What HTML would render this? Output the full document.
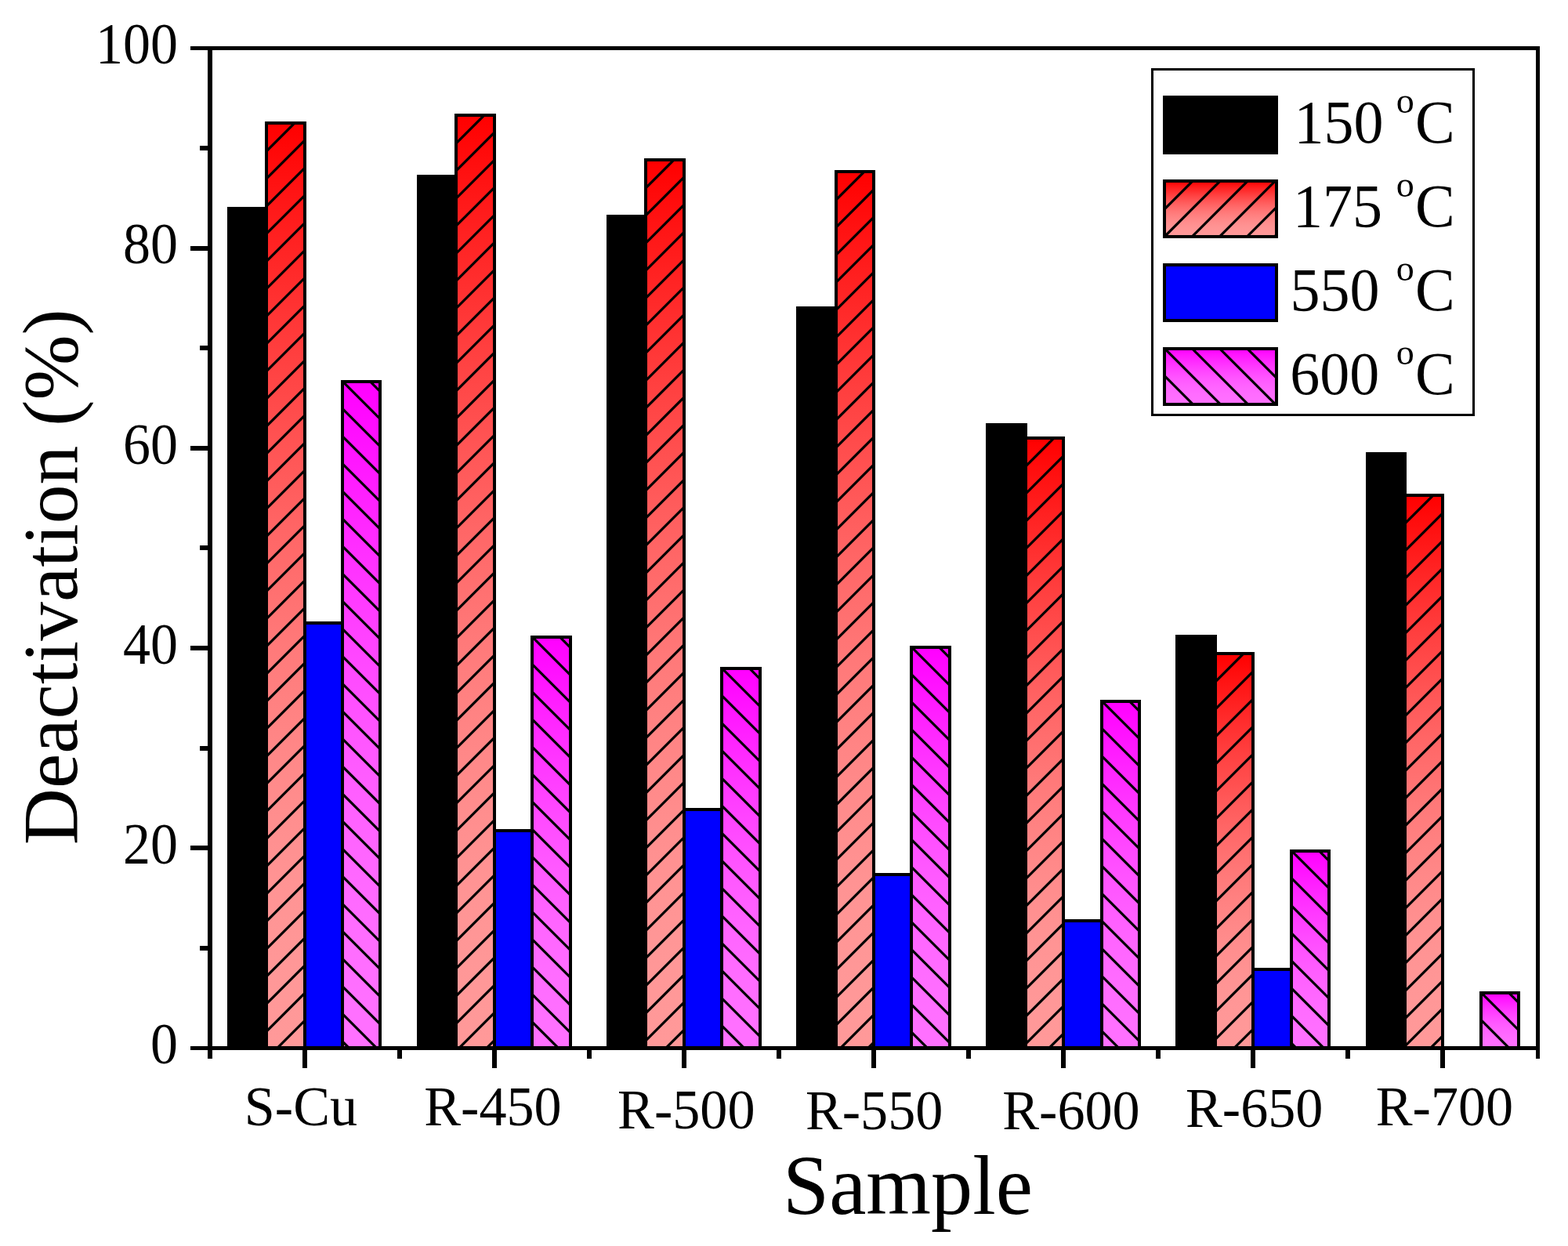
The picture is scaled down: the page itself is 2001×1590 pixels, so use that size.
<!DOCTYPE html>
<html><head><meta charset="utf-8"><title>Deactivation (%) by Sample</title>
<style>html,body{margin:0;padding:0;background:#fff;overflow:hidden}svg{display:block}</style></head><body>
<svg width="2001" height="1590" viewBox="0 0 2001 1590">
<defs>
<linearGradient id="gr" x1="0" y1="0" x2="0" y2="1"><stop offset="0.0000" stop-color="#ff0000"/><stop offset="0.0625" stop-color="#ff1111"/><stop offset="0.1250" stop-color="#ff2121"/><stop offset="0.1875" stop-color="#ff3030"/><stop offset="0.2500" stop-color="#ff3f3f"/><stop offset="0.3125" stop-color="#ff4c4c"/><stop offset="0.3750" stop-color="#ff5959"/><stop offset="0.4375" stop-color="#ff6565"/><stop offset="0.5000" stop-color="#ff6f6f"/><stop offset="0.5625" stop-color="#ff7979"/><stop offset="0.6250" stop-color="#ff8181"/><stop offset="0.6875" stop-color="#ff8888"/><stop offset="0.7500" stop-color="#ff8e8e"/><stop offset="0.8125" stop-color="#ff9393"/><stop offset="0.8750" stop-color="#ff9696"/><stop offset="0.9375" stop-color="#ff9898"/><stop offset="1.0000" stop-color="#ff9999"/></linearGradient>
<linearGradient id="gm" x1="0" y1="0" x2="0" y2="1"><stop offset="0.0000" stop-color="#ff00ff"/><stop offset="0.0625" stop-color="#ff0cff"/><stop offset="0.1250" stop-color="#ff18ff"/><stop offset="0.1875" stop-color="#ff23ff"/><stop offset="0.2500" stop-color="#ff2eff"/><stop offset="0.3125" stop-color="#ff38ff"/><stop offset="0.3750" stop-color="#ff41ff"/><stop offset="0.4375" stop-color="#ff4aff"/><stop offset="0.5000" stop-color="#ff52ff"/><stop offset="0.5625" stop-color="#ff59ff"/><stop offset="0.6250" stop-color="#ff5fff"/><stop offset="0.6875" stop-color="#ff64ff"/><stop offset="0.7500" stop-color="#ff68ff"/><stop offset="0.8125" stop-color="#ff6cff"/><stop offset="0.8750" stop-color="#ff6eff"/><stop offset="0.9375" stop-color="#ff70ff"/><stop offset="1.0000" stop-color="#ff70ff"/></linearGradient>
<clipPath id="cr0"><rect x="340" y="157" width="49" height="1180.0"/></clipPath>
<clipPath id="cr1"><rect x="582" y="147" width="49" height="1190.0"/></clipPath>
<clipPath id="cr2"><rect x="824" y="204" width="49" height="1133.0"/></clipPath>
<clipPath id="cr3"><rect x="1067" y="219" width="48" height="1118.0"/></clipPath>
<clipPath id="cr4"><rect x="1309" y="559" width="48" height="778.0"/></clipPath>
<clipPath id="cr5"><rect x="1551" y="834" width="48" height="503.0"/></clipPath>
<clipPath id="cr6"><rect x="1793" y="632" width="48" height="705.0"/></clipPath>
<clipPath id="cm0"><rect x="437" y="487" width="48" height="850.0"/></clipPath>
<clipPath id="cm1"><rect x="679" y="813" width="49" height="524.0"/></clipPath>
<clipPath id="cm2"><rect x="921" y="853" width="49" height="484.0"/></clipPath>
<clipPath id="cm3"><rect x="1163" y="826" width="49" height="511.0"/></clipPath>
<clipPath id="cm4"><rect x="1406" y="895" width="48" height="442.0"/></clipPath>
<clipPath id="cm5"><rect x="1648" y="1086" width="48" height="251.0"/></clipPath>
<clipPath id="cm6"><rect x="1890" y="1267" width="48" height="70.0"/></clipPath>
<clipPath id="cl1"><rect x="1486" y="231" width="143" height="71"/></clipPath>
<clipPath id="cl3"><rect x="1486" y="445" width="143" height="71"/></clipPath>
</defs>
<rect x="0" y="0" width="2001" height="1590" fill="#fff"/>
<rect x="292" y="266" width="48" height="1071.0" fill="#000" stroke="#000" stroke-width="4.0" />
<rect x="534" y="225" width="48" height="1112.0" fill="#000" stroke="#000" stroke-width="4.0" />
<rect x="776" y="276" width="48" height="1061.0" fill="#000" stroke="#000" stroke-width="4.0" />
<rect x="1018" y="393" width="49" height="944.0" fill="#000" stroke="#000" stroke-width="4.0" />
<rect x="1260" y="542" width="49" height="795.0" fill="#000" stroke="#000" stroke-width="4.0" />
<rect x="1502" y="812" width="49" height="525.0" fill="#000" stroke="#000" stroke-width="4.0" />
<rect x="1745" y="579" width="48" height="758.0" fill="#000" stroke="#000" stroke-width="4.0" />
<rect x="340" y="157" width="49" height="1180.0" fill="url(#gr)"/>
<path clip-path="url(#cr0)" d="M337.00,160.90L343.90,154.00M337.00,196.00L379.00,154.00M337.00,231.10L392.00,176.10M337.00,266.20L392.00,211.20M337.00,301.30L392.00,246.30M337.00,336.40L392.00,281.40M337.00,371.50L392.00,316.50M337.00,406.60L392.00,351.60M337.00,441.70L392.00,386.70M337.00,476.80L392.00,421.80M337.00,511.90L392.00,456.90M337.00,547.00L392.00,492.00M337.00,582.10L392.00,527.10M337.00,617.20L392.00,562.20M337.00,652.30L392.00,597.30M337.00,687.40L392.00,632.40M337.00,722.50L392.00,667.50M337.00,757.60L392.00,702.60M337.00,792.70L392.00,737.70M337.00,827.80L392.00,772.80M337.00,862.90L392.00,807.90M337.00,898.00L392.00,843.00M337.00,933.10L392.00,878.10M337.00,968.20L392.00,913.20M337.00,1003.30L392.00,948.30M337.00,1038.40L392.00,983.40M337.00,1073.50L392.00,1018.50M337.00,1108.60L392.00,1053.60M337.00,1143.70L392.00,1088.70M337.00,1178.80L392.00,1123.80M337.00,1213.90L392.00,1158.90M337.00,1249.00L392.00,1194.00M337.00,1284.10L392.00,1229.10M337.00,1319.20L392.00,1264.20M351.30,1340.00L392.00,1299.30M386.40,1340.00L392.00,1334.40" stroke="#000" stroke-width="3.2" fill="none"/>
<rect x="340" y="157" width="49" height="1180.0" fill="none" stroke="#000" stroke-width="4.0" />
<rect x="582" y="147" width="49" height="1190.0" fill="url(#gr)"/>
<path clip-path="url(#cr1)" d="M579.00,150.90L585.90,144.00M579.00,186.00L621.00,144.00M579.00,221.10L634.00,166.10M579.00,256.20L634.00,201.20M579.00,291.30L634.00,236.30M579.00,326.40L634.00,271.40M579.00,361.50L634.00,306.50M579.00,396.60L634.00,341.60M579.00,431.70L634.00,376.70M579.00,466.80L634.00,411.80M579.00,501.90L634.00,446.90M579.00,537.00L634.00,482.00M579.00,572.10L634.00,517.10M579.00,607.20L634.00,552.20M579.00,642.30L634.00,587.30M579.00,677.40L634.00,622.40M579.00,712.50L634.00,657.50M579.00,747.60L634.00,692.60M579.00,782.70L634.00,727.70M579.00,817.80L634.00,762.80M579.00,852.90L634.00,797.90M579.00,888.00L634.00,833.00M579.00,923.10L634.00,868.10M579.00,958.20L634.00,903.20M579.00,993.30L634.00,938.30M579.00,1028.40L634.00,973.40M579.00,1063.50L634.00,1008.50M579.00,1098.60L634.00,1043.60M579.00,1133.70L634.00,1078.70M579.00,1168.80L634.00,1113.80M579.00,1203.90L634.00,1148.90M579.00,1239.00L634.00,1184.00M579.00,1274.10L634.00,1219.10M579.00,1309.20L634.00,1254.20M583.30,1340.00L634.00,1289.30M618.40,1340.00L634.00,1324.40" stroke="#000" stroke-width="3.2" fill="none"/>
<rect x="582" y="147" width="49" height="1190.0" fill="none" stroke="#000" stroke-width="4.0" />
<rect x="824" y="204" width="49" height="1133.0" fill="url(#gr)"/>
<path clip-path="url(#cr2)" d="M821.00,207.90L827.90,201.00M821.00,243.00L863.00,201.00M821.00,278.10L876.00,223.10M821.00,313.20L876.00,258.20M821.00,348.30L876.00,293.30M821.00,383.40L876.00,328.40M821.00,418.50L876.00,363.50M821.00,453.60L876.00,398.60M821.00,488.70L876.00,433.70M821.00,523.80L876.00,468.80M821.00,558.90L876.00,503.90M821.00,594.00L876.00,539.00M821.00,629.10L876.00,574.10M821.00,664.20L876.00,609.20M821.00,699.30L876.00,644.30M821.00,734.40L876.00,679.40M821.00,769.50L876.00,714.50M821.00,804.60L876.00,749.60M821.00,839.70L876.00,784.70M821.00,874.80L876.00,819.80M821.00,909.90L876.00,854.90M821.00,945.00L876.00,890.00M821.00,980.10L876.00,925.10M821.00,1015.20L876.00,960.20M821.00,1050.30L876.00,995.30M821.00,1085.40L876.00,1030.40M821.00,1120.50L876.00,1065.50M821.00,1155.60L876.00,1100.60M821.00,1190.70L876.00,1135.70M821.00,1225.80L876.00,1170.80M821.00,1260.90L876.00,1205.90M821.00,1296.00L876.00,1241.00M821.00,1331.10L876.00,1276.10M847.20,1340.00L876.00,1311.20" stroke="#000" stroke-width="3.2" fill="none"/>
<rect x="824" y="204" width="49" height="1133.0" fill="none" stroke="#000" stroke-width="4.0" />
<rect x="1067" y="219" width="48" height="1118.0" fill="url(#gr)"/>
<path clip-path="url(#cr3)" d="M1064.00,222.90L1070.90,216.00M1064.00,258.00L1106.00,216.00M1064.00,293.10L1118.00,239.10M1064.00,328.20L1118.00,274.20M1064.00,363.30L1118.00,309.30M1064.00,398.40L1118.00,344.40M1064.00,433.50L1118.00,379.50M1064.00,468.60L1118.00,414.60M1064.00,503.70L1118.00,449.70M1064.00,538.80L1118.00,484.80M1064.00,573.90L1118.00,519.90M1064.00,609.00L1118.00,555.00M1064.00,644.10L1118.00,590.10M1064.00,679.20L1118.00,625.20M1064.00,714.30L1118.00,660.30M1064.00,749.40L1118.00,695.40M1064.00,784.50L1118.00,730.50M1064.00,819.60L1118.00,765.60M1064.00,854.70L1118.00,800.70M1064.00,889.80L1118.00,835.80M1064.00,924.90L1118.00,870.90M1064.00,960.00L1118.00,906.00M1064.00,995.10L1118.00,941.10M1064.00,1030.20L1118.00,976.20M1064.00,1065.30L1118.00,1011.30M1064.00,1100.40L1118.00,1046.40M1064.00,1135.50L1118.00,1081.50M1064.00,1170.60L1118.00,1116.60M1064.00,1205.70L1118.00,1151.70M1064.00,1240.80L1118.00,1186.80M1064.00,1275.90L1118.00,1221.90M1064.00,1311.00L1118.00,1257.00M1070.10,1340.00L1118.00,1292.10M1105.20,1340.00L1118.00,1327.20" stroke="#000" stroke-width="3.2" fill="none"/>
<rect x="1067" y="219" width="48" height="1118.0" fill="none" stroke="#000" stroke-width="4.0" />
<rect x="1309" y="559" width="48" height="778.0" fill="url(#gr)"/>
<path clip-path="url(#cr4)" d="M1306.00,562.90L1312.90,556.00M1306.00,598.00L1348.00,556.00M1306.00,633.10L1360.00,579.10M1306.00,668.20L1360.00,614.20M1306.00,703.30L1360.00,649.30M1306.00,738.40L1360.00,684.40M1306.00,773.50L1360.00,719.50M1306.00,808.60L1360.00,754.60M1306.00,843.70L1360.00,789.70M1306.00,878.80L1360.00,824.80M1306.00,913.90L1360.00,859.90M1306.00,949.00L1360.00,895.00M1306.00,984.10L1360.00,930.10M1306.00,1019.20L1360.00,965.20M1306.00,1054.30L1360.00,1000.30M1306.00,1089.40L1360.00,1035.40M1306.00,1124.50L1360.00,1070.50M1306.00,1159.60L1360.00,1105.60M1306.00,1194.70L1360.00,1140.70M1306.00,1229.80L1360.00,1175.80M1306.00,1264.90L1360.00,1210.90M1306.00,1300.00L1360.00,1246.00M1306.00,1335.10L1360.00,1281.10M1336.20,1340.00L1360.00,1316.20" stroke="#000" stroke-width="3.2" fill="none"/>
<rect x="1309" y="559" width="48" height="778.0" fill="none" stroke="#000" stroke-width="4.0" />
<rect x="1551" y="834" width="48" height="503.0" fill="url(#gr)"/>
<path clip-path="url(#cr5)" d="M1548.00,837.90L1554.90,831.00M1548.00,873.00L1590.00,831.00M1548.00,908.10L1602.00,854.10M1548.00,943.20L1602.00,889.20M1548.00,978.30L1602.00,924.30M1548.00,1013.40L1602.00,959.40M1548.00,1048.50L1602.00,994.50M1548.00,1083.60L1602.00,1029.60M1548.00,1118.70L1602.00,1064.70M1548.00,1153.80L1602.00,1099.80M1548.00,1188.90L1602.00,1134.90M1548.00,1224.00L1602.00,1170.00M1548.00,1259.10L1602.00,1205.10M1548.00,1294.20L1602.00,1240.20M1548.00,1329.30L1602.00,1275.30M1572.40,1340.00L1602.00,1310.40" stroke="#000" stroke-width="3.2" fill="none"/>
<rect x="1551" y="834" width="48" height="503.0" fill="none" stroke="#000" stroke-width="4.0" />
<rect x="1793" y="632" width="48" height="705.0" fill="url(#gr)"/>
<path clip-path="url(#cr6)" d="M1790.00,635.90L1796.90,629.00M1790.00,671.00L1832.00,629.00M1790.00,706.10L1844.00,652.10M1790.00,741.20L1844.00,687.20M1790.00,776.30L1844.00,722.30M1790.00,811.40L1844.00,757.40M1790.00,846.50L1844.00,792.50M1790.00,881.60L1844.00,827.60M1790.00,916.70L1844.00,862.70M1790.00,951.80L1844.00,897.80M1790.00,986.90L1844.00,932.90M1790.00,1022.00L1844.00,968.00M1790.00,1057.10L1844.00,1003.10M1790.00,1092.20L1844.00,1038.20M1790.00,1127.30L1844.00,1073.30M1790.00,1162.40L1844.00,1108.40M1790.00,1197.50L1844.00,1143.50M1790.00,1232.60L1844.00,1178.60M1790.00,1267.70L1844.00,1213.70M1790.00,1302.80L1844.00,1248.80M1790.00,1337.90L1844.00,1283.90M1823.00,1340.00L1844.00,1319.00" stroke="#000" stroke-width="3.2" fill="none"/>
<rect x="1793" y="632" width="48" height="705.0" fill="none" stroke="#000" stroke-width="4.0" />
<rect x="389" y="795" width="48" height="542.0" fill="#0000ff" stroke="#000" stroke-width="4.0" />
<rect x="631" y="1060" width="48" height="277.0" fill="#0000ff" stroke="#000" stroke-width="4.0" />
<rect x="873" y="1033" width="48" height="304.0" fill="#0000ff" stroke="#000" stroke-width="4.0" />
<rect x="1115" y="1116" width="48" height="221.0" fill="#0000ff" stroke="#000" stroke-width="4.0" />
<rect x="1357" y="1175" width="49" height="162.0" fill="#0000ff" stroke="#000" stroke-width="4.0" />
<rect x="1599" y="1237" width="49" height="100.0" fill="#0000ff" stroke="#000" stroke-width="4.0" />
<rect x="437" y="487" width="48" height="850.0" fill="url(#gm)"/>
<path clip-path="url(#cm0)" d="M434.00,1325.90L448.10,1340.00M434.00,1290.80L483.20,1340.00M434.00,1255.70L488.00,1309.70M434.00,1220.60L488.00,1274.60M434.00,1185.50L488.00,1239.50M434.00,1150.40L488.00,1204.40M434.00,1115.30L488.00,1169.30M434.00,1080.20L488.00,1134.20M434.00,1045.10L488.00,1099.10M434.00,1010.00L488.00,1064.00M434.00,974.90L488.00,1028.90M434.00,939.80L488.00,993.80M434.00,904.70L488.00,958.70M434.00,869.60L488.00,923.60M434.00,834.50L488.00,888.50M434.00,799.40L488.00,853.40M434.00,764.30L488.00,818.30M434.00,729.20L488.00,783.20M434.00,694.10L488.00,748.10M434.00,659.00L488.00,713.00M434.00,623.90L488.00,677.90M434.00,588.80L488.00,642.80M434.00,553.70L488.00,607.70M434.00,518.60L488.00,572.60M434.50,484.00L488.00,537.50M469.60,484.00L488.00,502.40" stroke="#000" stroke-width="3.2" fill="none"/>
<rect x="437" y="487" width="48" height="850.0" fill="none" stroke="#000" stroke-width="4.0" />
<rect x="679" y="813" width="49" height="524.0" fill="url(#gm)"/>
<path clip-path="url(#cm1)" d="M676.00,1336.00L680.00,1340.00M676.00,1300.90L715.10,1340.00M676.00,1265.80L731.00,1320.80M676.00,1230.70L731.00,1285.70M676.00,1195.60L731.00,1250.60M676.00,1160.50L731.00,1215.50M676.00,1125.40L731.00,1180.40M676.00,1090.30L731.00,1145.30M676.00,1055.20L731.00,1110.20M676.00,1020.10L731.00,1075.10M676.00,985.00L731.00,1040.00M676.00,949.90L731.00,1004.90M676.00,914.80L731.00,969.80M676.00,879.70L731.00,934.70M676.00,844.60L731.00,899.60M676.50,810.00L731.00,864.50M711.60,810.00L731.00,829.40" stroke="#000" stroke-width="3.2" fill="none"/>
<rect x="679" y="813" width="49" height="524.0" fill="none" stroke="#000" stroke-width="4.0" />
<rect x="921" y="853" width="49" height="484.0" fill="url(#gm)"/>
<path clip-path="url(#cm2)" d="M918.00,1305.80L952.20,1340.00M918.00,1270.70L973.00,1325.70M918.00,1235.60L973.00,1290.60M918.00,1200.50L973.00,1255.50M918.00,1165.40L973.00,1220.40M918.00,1130.30L973.00,1185.30M918.00,1095.20L973.00,1150.20M918.00,1060.10L973.00,1115.10M918.00,1025.00L973.00,1080.00M918.00,989.90L973.00,1044.90M918.00,954.80L973.00,1009.80M918.00,919.70L973.00,974.70M918.00,884.60L973.00,939.60M918.50,850.00L973.00,904.50M953.60,850.00L973.00,869.40" stroke="#000" stroke-width="3.2" fill="none"/>
<rect x="921" y="853" width="49" height="484.0" fill="none" stroke="#000" stroke-width="4.0" />
<rect x="1163" y="826" width="49" height="511.0" fill="url(#gm)"/>
<path clip-path="url(#cm3)" d="M1160.00,1313.90L1186.10,1340.00M1160.00,1278.80L1215.00,1333.80M1160.00,1243.70L1215.00,1298.70M1160.00,1208.60L1215.00,1263.60M1160.00,1173.50L1215.00,1228.50M1160.00,1138.40L1215.00,1193.40M1160.00,1103.30L1215.00,1158.30M1160.00,1068.20L1215.00,1123.20M1160.00,1033.10L1215.00,1088.10M1160.00,998.00L1215.00,1053.00M1160.00,962.90L1215.00,1017.90M1160.00,927.80L1215.00,982.80M1160.00,892.70L1215.00,947.70M1160.00,857.60L1215.00,912.60M1160.50,823.00L1215.00,877.50M1195.60,823.00L1215.00,842.40" stroke="#000" stroke-width="3.2" fill="none"/>
<rect x="1163" y="826" width="49" height="511.0" fill="none" stroke="#000" stroke-width="4.0" />
<rect x="1406" y="895" width="48" height="442.0" fill="url(#gm)"/>
<path clip-path="url(#cm4)" d="M1403.00,1312.70L1430.30,1340.00M1403.00,1277.60L1457.00,1331.60M1403.00,1242.50L1457.00,1296.50M1403.00,1207.40L1457.00,1261.40M1403.00,1172.30L1457.00,1226.30M1403.00,1137.20L1457.00,1191.20M1403.00,1102.10L1457.00,1156.10M1403.00,1067.00L1457.00,1121.00M1403.00,1031.90L1457.00,1085.90M1403.00,996.80L1457.00,1050.80M1403.00,961.70L1457.00,1015.70M1403.00,926.60L1457.00,980.60M1403.50,892.00L1457.00,945.50M1438.60,892.00L1457.00,910.40" stroke="#000" stroke-width="3.2" fill="none"/>
<rect x="1406" y="895" width="48" height="442.0" fill="none" stroke="#000" stroke-width="4.0" />
<rect x="1648" y="1086" width="48" height="251.0" fill="url(#gm)"/>
<path clip-path="url(#cm5)" d="M1645.00,1328.20L1656.80,1340.00M1645.00,1293.10L1691.90,1340.00M1645.00,1258.00L1699.00,1312.00M1645.00,1222.90L1699.00,1276.90M1645.00,1187.80L1699.00,1241.80M1645.00,1152.70L1699.00,1206.70M1645.00,1117.60L1699.00,1171.60M1645.50,1083.00L1699.00,1136.50M1680.60,1083.00L1699.00,1101.40" stroke="#000" stroke-width="3.2" fill="none"/>
<rect x="1648" y="1086" width="48" height="251.0" fill="none" stroke="#000" stroke-width="4.0" />
<rect x="1890" y="1267" width="48" height="70.0" fill="url(#gm)"/>
<path clip-path="url(#cm6)" d="M1887.00,1333.70L1893.30,1340.00M1887.00,1298.60L1928.40,1340.00M1887.50,1264.00L1941.00,1317.50M1922.60,1264.00L1941.00,1282.40" stroke="#000" stroke-width="3.2" fill="none"/>
<rect x="1890" y="1267" width="48" height="70.0" fill="none" stroke="#000" stroke-width="4.0" />
<g fill="#000">
<rect x="243" y="59" width="1722" height="5"/>
<rect x="265" y="59" width="6" height="1292"/>
<rect x="1960" y="59" width="5" height="1292"/>
<rect x="243" y="1335" width="1722" height="5"/>
<rect x="243" y="1079" width="24" height="6"/>
<rect x="243" y="824" width="24" height="6"/>
<rect x="243" y="569" width="24" height="6"/>
<rect x="243" y="314" width="24" height="6"/>
<rect x="255" y="1207" width="12" height="6"/>
<rect x="255" y="952" width="12" height="6"/>
<rect x="255" y="696" width="12" height="6"/>
<rect x="255" y="441" width="12" height="6"/>
<rect x="255" y="186" width="12" height="6"/>
<rect x="386" y="1337" width="6" height="26"/>
<rect x="628" y="1337" width="6" height="26"/>
<rect x="870" y="1337" width="6" height="26"/>
<rect x="1112" y="1337" width="6" height="26"/>
<rect x="1354" y="1337" width="6" height="26"/>
<rect x="1596" y="1337" width="6" height="26"/>
<rect x="1838" y="1337" width="6" height="26"/>
<rect x="507" y="1337" width="6" height="14"/>
<rect x="749" y="1337" width="6" height="14"/>
<rect x="991" y="1337" width="6" height="14"/>
<rect x="1233" y="1337" width="6" height="14"/>
<rect x="1475" y="1337" width="6" height="14"/>
<rect x="1717" y="1337" width="6" height="14"/>
</g>
<text font-family="Liberation Serif, 'Times New Roman', serif" font-size="70" transform="translate(191.97,1357.20) scale(1.0,1.05)">0</text>
<text font-family="Liberation Serif, 'Times New Roman', serif" font-size="70" transform="translate(156.97,1102.00) scale(1.0,1.05)">20</text>
<text font-family="Liberation Serif, 'Times New Roman', serif" font-size="70" transform="translate(156.97,846.80) scale(1.0,1.05)">40</text>
<text font-family="Liberation Serif, 'Times New Roman', serif" font-size="70" transform="translate(156.97,591.60) scale(1.0,1.05)">60</text>
<text font-family="Liberation Serif, 'Times New Roman', serif" font-size="70" transform="translate(156.97,336.40) scale(1.0,1.05)">80</text>
<text font-family="Liberation Serif, 'Times New Roman', serif" font-size="70" transform="translate(121.97,81.20) scale(1.0,1.05)">100</text>
<text font-family="Liberation Serif, 'Times New Roman', serif" font-size="70.2" transform="translate(311.80,1436.30) scale(1.0,1.025)">S-Cu</text>
<text font-family="Liberation Serif, 'Times New Roman', serif" font-size="70.2" transform="translate(541.18,1436.10) scale(1.0,1.025)">R-450</text>
<text font-family="Liberation Serif, 'Times New Roman', serif" font-size="70.2" transform="translate(788.08,1439.80) scale(1.0,1.025)">R-500</text>
<text font-family="Liberation Serif, 'Times New Roman', serif" font-size="70.2" transform="translate(1027.88,1441.10) scale(1.0,1.025)">R-550</text>
<text font-family="Liberation Serif, 'Times New Roman', serif" font-size="70.2" transform="translate(1279.18,1441.10) scale(1.0,1.025)">R-600</text>
<text font-family="Liberation Serif, 'Times New Roman', serif" font-size="70.2" transform="translate(1512.98,1438.30) scale(1.0,1.025)">R-650</text>
<text font-family="Liberation Serif, 'Times New Roman', serif" font-size="70.2" transform="translate(1755.68,1436.10) scale(1.0,1.025)">R-700</text>
<text font-family="Liberation Serif, 'Times New Roman', serif" font-size="106.4" transform="translate(998.98,1548.50) scale(1.0,1.015)">Sample</text>
<text font-family="Liberation Serif, 'Times New Roman', serif" font-size="99.7" transform="translate(97.7,1077.97) rotate(-90)">Deactivation (%)</text>
<rect x="1470.5" y="88.5" width="410" height="441" fill="#fff" stroke="#000" stroke-width="3"/>
<rect x="1486" y="124" width="143" height="71" fill="#000" stroke="#000" stroke-width="4.0" />
<rect x="1486" y="231" width="143" height="71" fill="url(#gr)"/>
<path clip-path="url(#cl1)" d="M1483.00,234.90L1489.90,228.00M1483.00,270.00L1525.00,228.00M1483.10,305.00L1560.10,228.00M1518.20,305.00L1595.20,228.00M1553.30,305.00L1630.30,228.00M1588.40,305.00L1632.00,261.40M1623.50,305.00L1632.00,296.50" stroke="#000" stroke-width="3.2" fill="none"/>
<rect x="1486" y="231" width="143" height="71" fill="none" stroke="#000" stroke-width="4.0" />
<rect x="1486" y="338" width="143" height="71" fill="#0000ff" stroke="#000" stroke-width="4.0" />
<rect x="1486" y="445" width="143" height="71" fill="url(#gm)"/>
<path clip-path="url(#cl3)" d="M1483.00,511.70L1490.30,519.00M1483.00,476.60L1525.40,519.00M1483.50,442.00L1560.50,519.00M1518.60,442.00L1595.60,519.00M1553.70,442.00L1630.70,519.00M1588.80,442.00L1632.00,485.20M1623.90,442.00L1632.00,450.10" stroke="#000" stroke-width="3.2" fill="none"/>
<rect x="1486" y="445" width="143" height="71" fill="none" stroke="#000" stroke-width="4.0" />
<text font-family="Liberation Serif, 'Times New Roman', serif" font-size="76" transform="translate(1651.42,182.00) scale(1.0,1.035)">150</text>
<text font-family="Liberation Serif, 'Times New Roman', serif" font-size="46" transform="translate(1781.75,144.00) scale(1.0,1.0)">o</text>
<text font-family="Liberation Serif, 'Times New Roman', serif" font-size="76" transform="translate(1805.88,182.00) scale(1.0,1.025)">C</text>
<text font-family="Liberation Serif, 'Times New Roman', serif" font-size="76" transform="translate(1650.02,289.00) scale(1.0,1.035)">175</text>
<text font-family="Liberation Serif, 'Times New Roman', serif" font-size="46" transform="translate(1781.75,251.00) scale(1.0,1.0)">o</text>
<text font-family="Liberation Serif, 'Times New Roman', serif" font-size="76" transform="translate(1805.88,289.00) scale(1.0,1.025)">C</text>
<text font-family="Liberation Serif, 'Times New Roman', serif" font-size="76" transform="translate(1646.58,396.00) scale(1.0,1.035)">550</text>
<text font-family="Liberation Serif, 'Times New Roman', serif" font-size="46" transform="translate(1781.75,358.00) scale(1.0,1.0)">o</text>
<text font-family="Liberation Serif, 'Times New Roman', serif" font-size="76" transform="translate(1805.88,396.00) scale(1.0,1.025)">C</text>
<text font-family="Liberation Serif, 'Times New Roman', serif" font-size="76" transform="translate(1646.23,503.10) scale(1.0,1.035)">600</text>
<text font-family="Liberation Serif, 'Times New Roman', serif" font-size="46" transform="translate(1781.75,465.10) scale(1.0,1.0)">o</text>
<text font-family="Liberation Serif, 'Times New Roman', serif" font-size="76" transform="translate(1805.88,503.10) scale(1.0,1.025)">C</text>
</svg></body></html>
